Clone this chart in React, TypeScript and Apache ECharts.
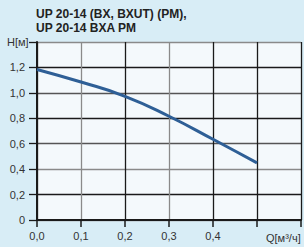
import React, { useEffect, useRef } from "react";
import * as echarts from "echarts";

const titleLines = ["UP 20-14 (BX, BXUT) (PM),", "UP 20-14 BXA PM"];
const yAxisName = "H[м]";
const xAxisName = "Q[м³/ч]";
const flowQ = [0, 0.1, 0.2, 0.3, 0.4, 0.5];
const headH = [1.184, 1.085, 0.973, 0.816, 0.635, 0.449];

const fmt = (v: number) =>
  v > 1.3 ? "" : v === 0 ? "0" : v.toFixed(1).replace(".", ",");

export default function App() {
  const ref = useRef<HTMLDivElement>(null);
  useEffect(() => {
    document.body.style.margin = "0";
    const chart = echarts.init(ref.current!, null, { renderer: "svg" });
    const font = "'Liberation Sans', Arial, sans-serif";
    const black = "#1a1a1a";
    const grey = "#8a8a8a";
    const dgrey = "#555555";
    chart.setOption({
      animation: false,
      backgroundColor: "#d8edf6",
      grid: {
        left: 37,
        right: 0,
        top: 42,
        bottom: 27,
        show: true,
        backgroundColor: "#f4f9fc",
        borderWidth: 0,
      },
      graphic: [
        {
          type: "text",
          left: 36,
          top: 8,
          style: { text: titleLines[0], font: `bold 12px ${font}`, fill: "#222" },
        },
        {
          type: "text",
          left: 36,
          top: 22,
          style: { text: titleLines[1], font: `bold 12px ${font}`, fill: "#222" },
        },
        {
          type: "text",
          left: 7,
          top: 36,
          style: { text: yAxisName, font: `11px ${font}`, fill: "#333" },
        },
        {
          type: "text",
          left: 266,
          top: 232,
          style: { text: xAxisName, font: `11px ${font}`, fill: "#333" },
        },
      ],
      xAxis: {
        type: "value",
        min: 0,
        max: 0.6,
        interval: 0.1,
        axisLine: { show: true, onZero: false, lineStyle: { color: black, width: 2 } },
        axisTick: { show: true, length: 7, lineStyle: { color: black, width: 1.5 } },
        axisLabel: {
          margin: 10,
          fontSize: 11,
          fontFamily: font,
          color: "#333",
          formatter: (v: number) => (v >= 0.45 ? "" : v.toFixed(1).replace(".", ",")),
        },
        splitLine: {
          show: true,
          lineStyle: { color: [black, grey, black, grey, black, black], width: 1.3 },
        },
      },
      yAxis: {
        type: "value",
        min: 0,
        max: 1.4,
        interval: 0.2,
        axisLine: { show: true, lineStyle: { color: black, width: 2 } },
        axisTick: { show: true, length: 8, lineStyle: { color: black, width: 1.3 } },
        axisLabel: {
          margin: 12,
          fontSize: 11,
          fontFamily: font,
          color: "#333",
          formatter: fmt,
        },
        splitLine: {
          show: true,
          lineStyle: {
            color: [grey, black, grey, dgrey, black, dgrey, black],
            width: 1.3,
          },
        },
      },
      series: [
        {
          type: "line",
          data: flowQ.map((q, i) => [q, headH[i]]),
          smooth: true,
          showSymbol: false,
          lineStyle: { color: "#2e5f96", width: 3 },
        },
      ],
    });
    return () => chart.dispose();
  }, []);
  return <div ref={ref} style={{ width: 304, height: 247 }} />;
}
